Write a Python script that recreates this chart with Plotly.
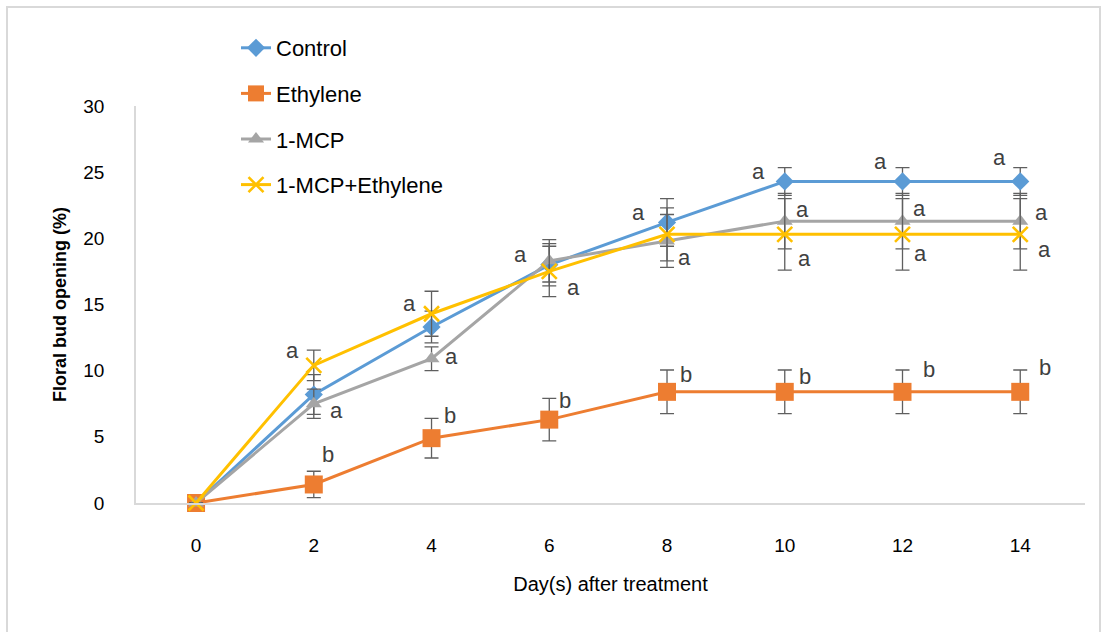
import plotly.graph_objects as go

# Floral bud opening (%) over days after treatment, mean ± SE
days = [0, 2, 4, 6, 8, 10, 12, 14]
series_names = ["Control", "Ethylene", "1-MCP", "1-MCP+Ethylene"]

control = [0, 8.2, 13.3, 18.0, 21.2, 24.3, 24.3, 24.3]
control_se = [0, 1.5, 1.2, 1.6, 1.8, 1.05, 1.05, 1.05]
ethylene = [0, 1.4, 4.9, 6.3, 8.4, 8.4, 8.4, 8.4]
ethylene_se = [0, 1.0, 1.5, 1.6, 1.65, 1.65, 1.65, 1.65]
mcp = [0, 7.5, 10.9, 18.3, 19.8, 21.3, 21.3, 21.3]
mcp_se = [0, 1.1, 0.9, 1.6, 2.0, 2.1, 2.1, 2.1]
mcp_eth = [0, 10.4, 14.3, 17.5, 20.3, 20.3, 20.3, 20.3]
mcp_eth_se = [0, 1.15, 1.7, 1.9, 2.0, 2.7, 2.7, 2.7]

# Significance letters (None = no letter at that day)
control_letters = [None, None, None, "a", "a", "a", "a", "a"]
ethylene_letters = [None, "b", "b", "b", "b", "b", "b", "b"]
mcp_letters = [None, "a", "a", None, "a", "a", "a", "a"]
mcp_eth_letters = [None, "a", "a", "a", None, "a", "a", "a"]

y_ticks = [0, 5, 10, 15, 20, 25, 30]
x_ticks = [0, 2, 4, 6, 8, 10, 12, 14]

# Styling
colors = ["#5B9BD5", "#ED7D31", "#A5A5A5", "#FFC000"]
symbols = ["diamond", "square", "triangle-up", "x-thin"]
sizes = [14, 18, 14, 15]
label_offsets = {
    "Control": [None, None, None, (-29, 10), (-29, 10), (-26, 10), (-22, 20), (-21, 24)],
    "Ethylene": [None, (14, 30), (18, 23), (16, 19), (19, 17), (20, 15), (26, 22), (25, 24)],
    "1-MCP": [None, (23, -7), (20, 2), None, (17, -17), (18, 12), (17, 13), (21, 9)],
    "1-MCP+Ethylene": [None, (-21, 15), (-22, 10), (24, -16), None, (20, -24), (18, -19), (24, -15)],
}

values = [control, ethylene, mcp, mcp_eth]
errors = [control_se, ethylene_se, mcp_se, mcp_eth_se]
letters = [control_letters, ethylene_letters, mcp_letters, mcp_eth_letters]

FONT = "Liberation Sans, Arial, sans-serif"
fig = go.Figure()

for i, name in enumerate(series_names):
    marker = dict(symbol=symbols[i], size=sizes[i], color=colors[i])
    if symbols[i] == "x-thin":
        marker["line"] = dict(color=colors[i], width=2.6)
    fig.add_trace(go.Scatter(
        x=days, y=values[i], name=name, mode="lines+markers",
        line=dict(color=colors[i], width=3),
        marker=marker,
        error_y=dict(type="data", array=errors[i], visible=True,
                     color="#5f5f5f", thickness=1.3, width=7),
        legendgroup=name, cliponaxis=False,
    ))

# Letters beside the points
for i, name in enumerate(series_names):
    for j, d in enumerate(days):
        lab = letters[i][j]
        if lab is None:
            continue
        dx, dy = label_offsets[name][j]
        fig.add_annotation(x=d, y=values[i][j], text=lab, showarrow=False,
                           xshift=dx, yshift=dy,
                           font=dict(family=FONT, size=22, color="#404040"))

# Light frame around the whole chart
L, T, PW, PH = 136, 106, 949, 397
fig.add_shape(type="rect", xref="paper", yref="paper",
              x0=(7 - L) / PW, x1=(1100 - L) / PW,
              y0=(T + PH - 640) / PH, y1=(T + PH - 7) / PH,
              line=dict(color="#d9d9d9", width=2), fillcolor="rgba(0,0,0,0)",
              layer="below")

fig.update_layout(
    width=1106, height=632,
    margin=dict(l=L, r=1106 - L - PW, t=T, b=632 - T - PH, autoexpand=False),
    paper_bgcolor="white", plot_bgcolor="white",
    font=dict(family=FONT, color="#000000"),
    showlegend=True,
    legend=dict(x=(236 - L) / PW, y=(T + PH - 27) / PH, xanchor="left", yanchor="top",
                font=dict(family=FONT, size=22, color="#000000"),
                tracegroupgap=14, bgcolor="rgba(0,0,0,0)"),
    xaxis=dict(range=[-1.02, 15.1], tickvals=x_ticks, ticktext=[str(v) for v in x_ticks],
               showgrid=False, zeroline=False, showline=True, linecolor="#d9d9d9", linewidth=1.5,
               ticks="outside", ticklen=24, tickcolor="rgba(0,0,0,0)",
               tickfont=dict(family=FONT, size=19, color="#000000"),
               title=dict(text="Day(s) after treatment", standoff=22,
                          font=dict(family=FONT, size=20, color="#000000"))),
    yaxis=dict(range=[0, 30], tickvals=y_ticks, ticktext=[str(v) for v in y_ticks],
               showgrid=False, zeroline=False, showline=True, linecolor="#d9d9d9", linewidth=1.5,
               ticks="outside", ticklen=26, tickcolor="rgba(0,0,0,0)",
               tickfont=dict(family=FONT, size=19, color="#000000"),
               title=dict(text="<b>Floral bud opening (%)</b>", standoff=12,
                          font=dict(family=FONT, size=18, color="#000000"))),
)

fig.write_html("out.html")
